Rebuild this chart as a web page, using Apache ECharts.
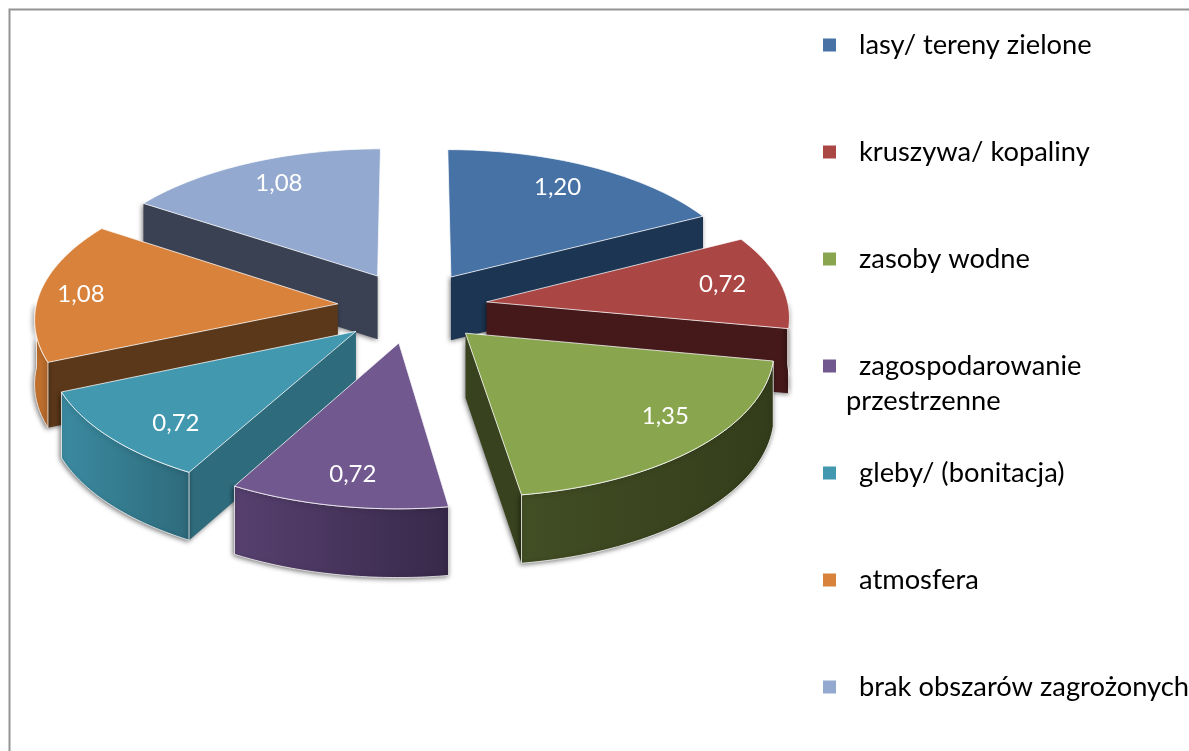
<!DOCTYPE html>
<html><head><meta charset="utf-8">
<style>html,body{margin:0;padding:0;background:#fff}#c{width:1189px;height:751px}</style>
<script src="https://cdn.jsdelivr.net/npm/echarts@6/dist/echarts.min.js"></script>
</head><body><div id="c"></div>
<script>
const categories = ['lasy/ tereny zielone','kruszywa/ kopaliny','zasoby wodne','zagospodarowanie przestrzenne','gleby/ (bonitacja)','atmosfera','brak obszarów zagrożonych'];
const values = [1.20,0.72,1.35,0.72,0.72,1.08,1.08];
const topColors = ['#4672A6','#AA4644','#89A54E','#71588F','#4198AF','#D9823B','#93A9CF'];
const wallColors = ['#1C3553','#45191A','#38421E','#38294A','#2E6B7C','#5B3819','#3A4153'];
const outerLeft = ['#1C3553','#45191A','#424E24','#57406F','#3B8AA0','#C87530','#3A4153'];
const outerRight = ['#1C3553','#45191A','#343D1B','#38294A','#2E6B7C','#B5692B','#3A4153'];
const labelRadius = [0.79,0.805,0.81,0.82,0.80,0.862,0.80];
const labelFrac = [0.47,0.488,0.43,0.48,0.37,0.49,0.525];

// projection constants of the tilted pie
const CX=412.5, CY=307, RX=302, RY=144, EXPLODE=0.2485, PERSP=0.09, DEPTH=64;
const total = values.reduce((a,b)=>a+b,0);
const spans = []; let acc=0;
values.forEach(v=>{const a0=acc/total*2*Math.PI; acc+=v; spans.push([a0,acc/total*2*Math.PI]);});
function proj(i,r,t,h){
  const m=(spans[i][0]+spans[i][1])/2;
  const wx=EXPLODE*Math.sin(m)+r*Math.sin(t), wy=EXPLODE*Math.cos(m)+r*Math.cos(t);
  const s=1/(1+PERSP*wy);
  return [CX+s*RX*wx, CY-s*RY*wy+(h?Math.pow(s,0.6)*h:0)];
}
function arcPts(i,a,b,h,rev){
  const pts=[],n=48;
  for(let k=0;k<=n;k++){const t=a+(b-a)*k/n;pts.push(proj(i,1,t,h));}
  return rev?pts.reverse():pts;
}
const shadow={shadowBlur:5,shadowColor:'rgba(0,0,0,0.55)',shadowOffsetX:-1,shadowOffsetY:1};
const edge='rgba(255,255,255,0.75)';
function renderSlice(i){
  return function(params,api){
    const [a,b]=spans[i];
    const apexT=proj(i,0,0,0), apexB=proj(i,0,0,DEPTH);
    const top=[apexT].concat(arcPts(i,a,b,0));
    const lp=proj(i,labelRadius[i],a+(b-a)*labelFrac[i],0);
    const children=[];
    const wallStyle=Object.assign({fill:wallColors[i]},shadow);
    if(Math.sin(a)<0) children.push({type:'polygon',shape:{points:[apexT,proj(i,1,a,0),proj(i,1,a,DEPTH),apexB]},style:wallStyle});
    if(Math.sin(b)>0) children.push({type:'polygon',shape:{points:[apexT,proj(i,1,b,0),proj(i,1,b,DEPTH),apexB]},style:wallStyle});
    const fa=Math.max(a,Math.PI/2), fb=Math.min(b,Math.PI*1.5);
    if(fb>fa){
      const grad=new echarts.graphic.LinearGradient(0,0,1,0,[{offset:0,color:outerLeft[i]},{offset:1,color:outerRight[i]}]);
      children.push({type:'polygon',shape:{points:arcPts(i,fa,fb,0).concat(arcPts(i,fa,fb,DEPTH,true))},style:Object.assign({fill:grad,stroke:edge,lineWidth:1},shadow)});
    }
    children.push({type:'polygon',shape:{points:top},style:{fill:topColors[i],stroke:edge,lineWidth:1}});
    children.push({type:'text',style:{text:api.value(0).toFixed(2).replace('.',','),x:lp[0],y:lp[1],fill:'#fff',font:'24px Lato',align:'center',verticalAlign:'middle'}});
    return {type:'group',children};
  };
}
const order=values.map((v,i)=>i).sort((p,q)=>{
  const m=i=>(spans[i][0]+spans[i][1])/2; return Math.cos(m(q))-Math.cos(m(p));});
const chart=echarts.init(document.getElementById('c'),null,{renderer:'canvas'});
chart.setOption({
  animation:false,
  backgroundColor:'#fff',
  xAxis:{show:false},yAxis:{show:false},
  legend:{orient:'vertical',left:818,top:25,itemWidth:13,itemHeight:13,itemGap:77,icon:'rect',
    data:categories,
    formatter:n=>n.split(' przestrzenne')[0],
    textStyle:{fontFamily:'Lato',fontSize:27.3,color:'#000',lineHeight:30,padding:[0,0,0,18]}},
  graphic:[
    {type:'polyline',shape:{points:[[9.5,760],[9.5,9.5],[1200,9.5]]},style:{stroke:'#949494',lineWidth:2,fill:null}},
    {type:'text',left:846,top:388,style:{text:'przestrzenne',font:'27.3px Lato',fill:'#000'}}
  ],
  series:categories.map((name,i)=>({
    type:'custom',name,coordinateSystem:'none',z:2+order.indexOf(i),
    itemStyle:{color:topColors[i]},
    renderItem:renderSlice(i),data:[[values[i]]],
    encode:{value:0}
  }))
});
</script></body></html>
